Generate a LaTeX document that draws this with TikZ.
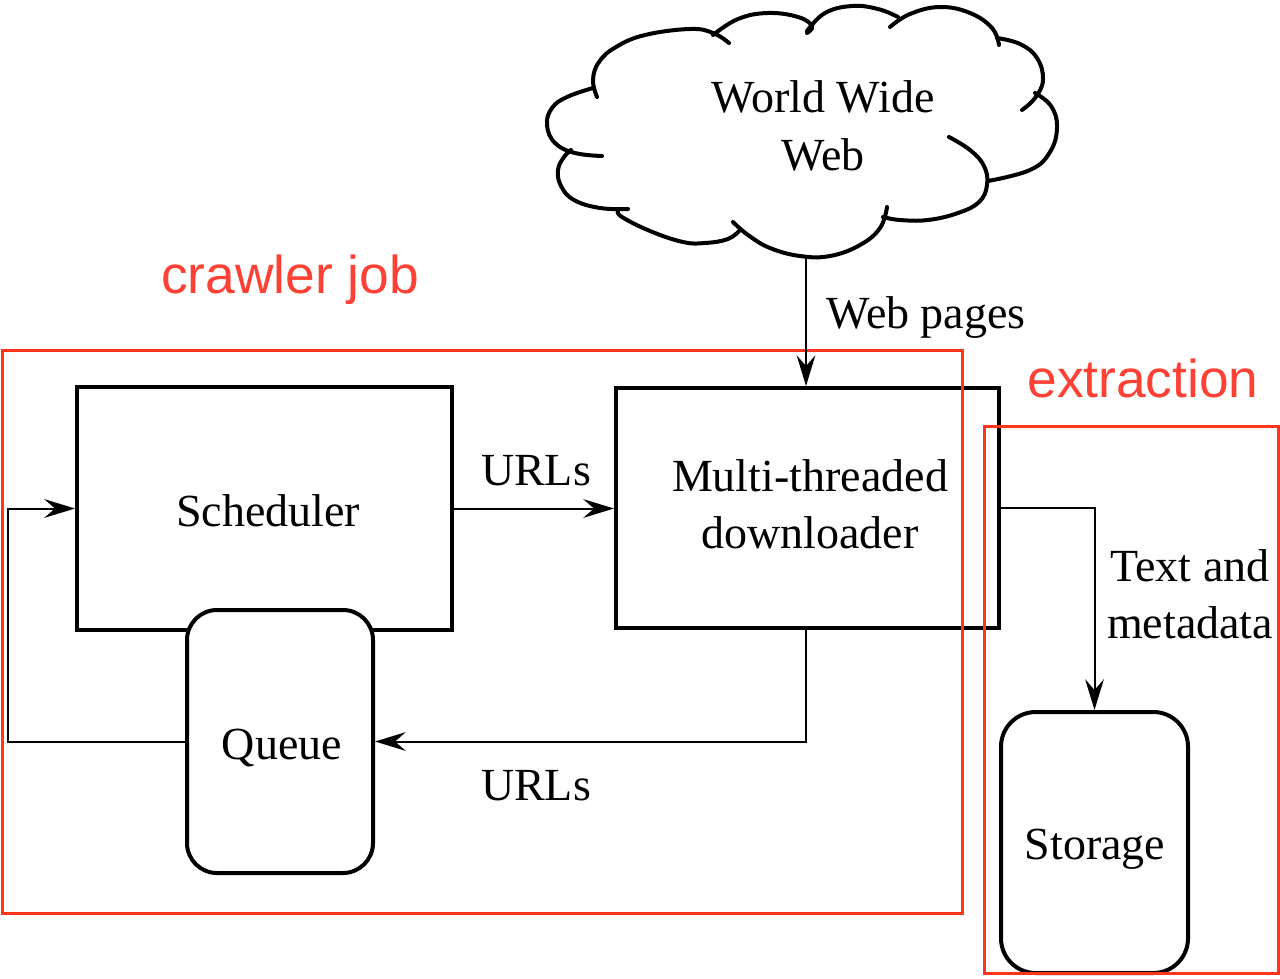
\documentclass[tikz,border=0pt]{standalone}
\usepackage{fontspec}
\setmainfont{Liberation Serif}
\newfontfamily\redfont{Liberation Sans}
\usetikzlibrary{arrows.meta}
\definecolor{jobred}{RGB}{255,52,28}
\definecolor{jobtext}{RGB}{255,64,52}
\begin{document}
\begin{tikzpicture}[x=0.75pt,y=-0.75pt,
  txt/.style={font=\fontsize{34.5pt}{43pt}\selectfont, align=center, inner sep=0pt},
  redlabel/.style={font=\redfont\fontsize{40pt}{48pt}\selectfont, text=jobtext, inner sep=0pt},
  redbox/.style={draw=jobred, line width=2.25pt},
  sqbox/.style={draw, line width=3pt, txt},
  rndbox/.style={draw, line width=3pt, fill=white, rounded corners=#1, txt},
  cloudline/.style={line width=3pt, line cap=round},
  conn/.style={line width=1.5pt, -{Stealth[length=23pt, width=14pt, inset=8pt]}}
]
\useasboundingbox (0,0) rectangle (1280,978);

% cloud
\draw[cloudline] plot[smooth, tension=0.7] coordinates {(597,97) (593,80) (599,62) (616,47) (645,35) (690,29) (713,33) (729,43)};
\draw[cloudline] plot[smooth, tension=0.7] coordinates {(713,35) (738,19) (768,13) (798,17) (812,26) (807,33)};
\draw[cloudline] plot[smooth, tension=0.7] coordinates {(807,31) (825,13) (852,6) (878,9) (898,17)};
\draw[cloudline] plot[smooth, tension=0.7] coordinates {(890,27) (910,14) (940,7) (970,13) (992,28) (999,45)};
\draw[cloudline] plot[smooth, tension=0.7] coordinates {(997,38) (1020,44) (1037,58) (1043,80) (1035,98) (1022,110)};
\draw[cloudline] plot[smooth, tension=0.7] coordinates {(1035,93) (1051,106) (1057,127) (1050,152) (1030,170) (988,181)};
\draw[cloudline] plot[smooth, tension=0.7] coordinates {(949,137) (970,150) (984,166) (987,185) (979,202) (958,213) (928,220) (900,220) (883,217)};
\draw[cloudline] plot[smooth, tension=0.7] coordinates {(887,207) (880,228) (860,245) (830,256) (800,256) (770,248) (748,235) (733,222)};
\draw[cloudline] plot[smooth, tension=0.7] coordinates {(740,230) (728,239) (705,243) (683,242) (650,231) (622,217) (618,211)};
\draw[cloudline] plot[smooth, tension=0.7] coordinates {(628,209) (600,208) (574,200) (561,186) (558,170) (564,157) (571,150)};
\draw[cloudline] plot[smooth, tension=0.7] coordinates {(602,156) (575,153) (555,143) (547,125) (552,108) (567,97) (593,88)};
\node[txt] (www) at (823,126) {World Wide\\Web};
\coordinate (cloudb) at (806,257);

% boxes
\node[sqbox, minimum width=281.25pt, minimum height=182.25pt] (sch) at (264.5,508.5) {};
\node[txt] (schtxt) at (268,511) {Scheduler};
\node[sqbox, minimum width=287.25pt, minimum height=180pt] (dl) at (807.5,508) {};
\node[txt] (dltxt) at (810,504) {Multi-threaded\\downloader};
\node[rndbox=22.5pt, minimum width=139.5pt, minimum height=197.25pt] (q) at (280,741.5) {};
\node[txt] (qtxt) at (282,748) {Queue};
\node[rndbox=26pt, minimum width=140.25pt, minimum height=195.75pt] (st) at (1094.5,842.5) {};
\node[txt] (sttxt) at (1095,849) {Storage};

% red grouping boxes
\draw[redbox] (2,350) rectangle (962,913);
\draw[redbox] (984,426) rectangle (1278,973);
\node[redlabel] (lbljob) at (290,280) {crawler job};
\node[redlabel] (lblext) at (1143,378) {extraction};

% connectors
\draw[conn] (cloudb) -- (cloudb |- dl.north);
\draw[conn] (sch.east) -- (sch.east -| dl.west);
\draw[conn] (dl.south -| cloudb) |- (q.east);
\coordinate (loopx) at (8,741.5);
\draw[conn] (q.west) -- (loopx) |- (sch.west);
\draw[conn] (dl.east) -| (st.north);

% labels
\node[txt] (lblweb) at (926,318) {Web pages};
\node[txt] (lblurl1) at (536,471) {URLs};
\node[txt] (lblurl2) at (536,786) {URLs};
\node[txt] (lbltxt) at (1190,594) {Text and\\metadata};
\end{tikzpicture}
\end{document}
